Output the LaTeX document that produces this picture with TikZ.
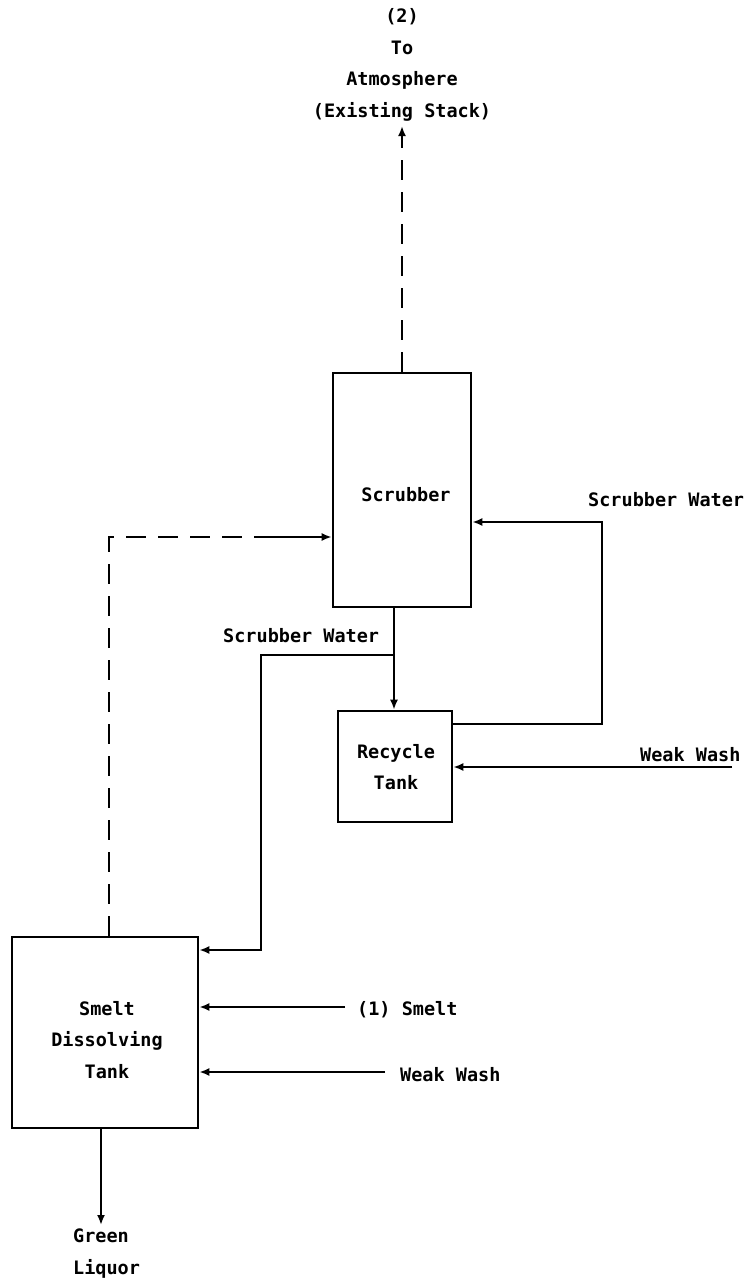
\documentclass[tikz,border=0pt]{standalone}
\usepackage{fontspec}
\newfontfamily\flowfont{DejaVu Sans Mono}
\usetikzlibrary{arrows.meta}
\begin{document}
\begin{tikzpicture}[x=1pt,y=-1pt,
  flow/.style={line width=2.6pt,-{Latex[length=10pt,width=8pt]}},
  gasflow/.style={flow,dash pattern=on 20pt off 12pt},
  unit/.style={draw,line width=2.6pt,minimum width=#1,inner sep=0pt},
  lbl/.style={inner sep=0pt,font=\flowfont\bfseries\fontsize{18.5}{31.5}\selectfont,align=center}]
\useasboundingbox (0,0) rectangle (748,1285);
\fill[white] (0,0) rectangle (748,1285);
% units
\node[unit=138pt,minimum height=234pt] (scr) at (402,490) {};
\node[unit=114pt,minimum height=111pt] (rec) at (395,766.5) {};
\node[unit=186pt,minimum height=191pt] (sdt) at (105,1032.5) {};
% unit labels
\node[lbl] (scrl) at (406,495) {Scrubber};
\node[lbl] (recl) at (396,767) {Recycle\\Tank};
\node[lbl] (sdtl) at (107,1040) {Smelt\\Dissolving\\Tank};
% stream labels
\node[lbl] (atm) at (402,65) {(2)\\To\\Atmosphere\\(Existing Stack)};
\node[lbl,anchor=west] (sw1) at (588,500) {Scrubber Water};
\node[lbl,anchor=west] (sw2) at (223,636) {Scrubber Water};
\node[lbl,anchor=west] (ww1) at (640,755) {Weak Wash};
\node[lbl,anchor=west] (sm) at (357,1010) {(1) Smelt};
\node[lbl,anchor=west] (ww2) at (400,1075) {Weak Wash};
\node[lbl,anchor=north west,align=left] (gl) at (73,1229) {Green\\Liquor};
% coordinates
\coordinate (atmtip) at (402,126);
\coordinate (corner) at (109,537);
\coordinate (dashend) at (262,537);
\coordinate (br) at (394,655);
\coordinate (brl) at (261,655);
\coordinate (swin) at (261,950);
\coordinate (loopr) at (602,724);
\coordinate (loopt) at (602,522);
\coordinate (ww1s) at (732,767);
\coordinate (sms) at (345,1007);
\coordinate (ww2s) at (385,1072);
\coordinate (gltip) at (101,1225);
% connectors
\draw[gasflow] (scr.north -| atmtip) -- (atmtip);
\draw[line width=2.6pt,dash pattern=on 20pt off 12pt] (sdt.north -| corner) -- (corner) -- (dashend);
\draw[flow] (dashend) -- (corner -| scr.west);
\draw[flow] (scr.south -| br) -- (rec.north -| br);
\draw[flow] (br) -- (brl) -- (swin) -- (swin -| sdt.east);
\draw[flow] (rec.east |- loopr) -- (loopr) -- (loopt) -- (loopt -| scr.east);
\draw[flow] (ww1s) -- (ww1s -| rec.east);
\draw[flow] (sms) -- (sms -| sdt.east);
\draw[flow] (ww2s) -- (ww2s -| sdt.east);
\draw[flow] (sdt.south -| gltip) -- (gltip);
\end{tikzpicture}
\end{document}
